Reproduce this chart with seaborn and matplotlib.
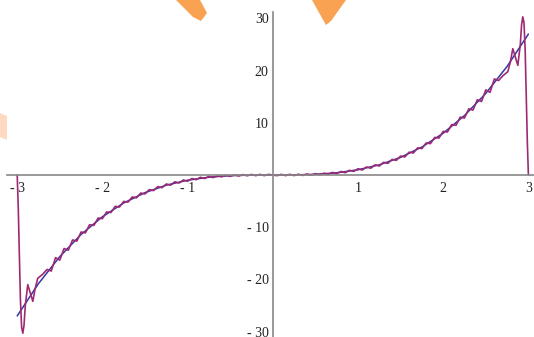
import matplotlib
matplotlib.use("Agg")
import matplotlib.pyplot as plt
from matplotlib.patches import Polygon
import seaborn as sns
import numpy as np

# blue curve: y = x^3
cube_x = [-3.0, -2.75, -2.5, -2.25, -2.0, -1.75, -1.5, -1.25, -1.0, -0.75, -0.5, -0.25,
          0.0, 0.25, 0.5, 0.75, 1.0, 1.25, 1.5, 1.75, 2.0, 2.25, 2.5, 2.75, 3.0]
cube_y = [-27.0, -20.8, -15.63, -11.39, -8.0, -5.36, -3.38, -1.95, -1.0, -0.42, -0.13, -0.02,
          0.0, 0.02, 0.13, 0.42, 1.0, 1.95, 3.38, 5.36, 8.0, 11.39, 15.63, 20.8, 27.0]

# purple curve: Fourier partial sum (ringing), left half
fourier_left_x = [-3.0, -2.988, -2.975, -2.962, -2.948, -2.934, -2.92, -2.905, -2.876, -2.846,
                  -2.817, -2.79, -2.759, -2.70, -2.65, -2.60, -2.55, -2.50, -2.45, -2.40,
                  -2.35, -2.30, -2.25, -2.20, -2.15, -2.10, -2.05, -2.00, -1.95, -1.90,
                  -1.85, -1.80, -1.75, -1.70, -1.65, -1.60, -1.55, -1.50, -1.45, -1.40,
                  -1.35, -1.30, -1.25, -1.20, -1.15, -1.10, -1.05, -1.00, -0.95, -0.90,
                  -0.85, -0.80, -0.75, -0.70, -0.65, -0.60, -0.55, -0.50, -0.45, -0.40,
                  -0.35, -0.30, -0.25, -0.20, -0.15, -0.10, -0.05]
fourier_left_y = [0.0, -6.0, -15.0, -24.0, -29.2, -30.3, -28.8, -25.0, -21.0, -22.6,
                  -24.2, -21.8, -19.8, -19.0, -18.1, -18.4, -15.83, -16.31, -14.08, -14.41,
                  -12.44, -12.67, -10.92, -11.09, -9.52, -9.66, -8.24, -8.36, -7.07, -7.19,
                  -6.01, -6.14, -5.06, -5.2, -4.21, -4.37, -3.46, -3.63, -2.8, -2.99,
                  -2.22, -2.43, -1.72, -1.95, -1.3, -1.54, -0.95, -1.2, -0.68, -0.9,
                  -0.44, -0.67, -0.27, -0.49, -0.13, -0.35, -0.03, -0.26, 0.04, -0.19,
                  0.08, -0.15, 0.11, -0.13, 0.12, -0.12, 0.12]

# right half
fourier_right_x = [0.0, 0.05, 0.10, 0.15, 0.20, 0.25, 0.30, 0.35, 0.40, 0.45,
                   0.50, 0.55, 0.60, 0.65, 0.70, 0.75, 0.80, 0.85, 0.90, 0.95,
                   1.00, 1.05, 1.10, 1.15, 1.20, 1.25, 1.30, 1.35, 1.40, 1.45,
                   1.50, 1.55, 1.60, 1.65, 1.70, 1.75, 1.80, 1.85, 1.90, 1.95,
                   2.00, 2.05, 2.10, 2.15, 2.20, 2.25, 2.30, 2.35, 2.40, 2.45,
                   2.50, 2.55, 2.60, 2.65, 2.70, 2.759, 2.79, 2.817, 2.846, 2.876,
                   2.905, 2.92, 2.934, 2.948, 2.962, 2.975, 2.988, 3.0]
fourier_right_y = [0.0, -0.12, 0.12, -0.12, 0.13, -0.11, 0.15, -0.08, 0.19, -0.04,
                   0.26, 0.03, 0.35, 0.13, 0.49, 0.27, 0.67, 0.44, 0.9, 0.68,
                   1.2, 0.95, 1.54, 1.3, 1.95, 1.72, 2.43, 2.22, 2.99, 2.8,
                   3.63, 3.46, 4.37, 4.21, 5.2, 5.06, 6.14, 6.01, 7.19, 7.07,
                   8.36, 8.24, 9.66, 9.52, 11.09, 10.92, 12.67, 12.44, 14.41, 14.08,
                   16.31, 15.83, 18.4, 18.1, 19.0, 19.8, 21.8, 24.2, 22.6, 21.0,
                   25.0, 28.8, 30.3, 29.2, 24.0, 15.0, 6.0, 0.0]

x_major = [-3, -2, -1, 1, 2, 3]
x_labels = ["- 3", "- 2", "- 1", "1", "2", "3"]
y_major = [-30, -20, -10, 10, 20, 30]
y_labels = ["- 30", "- 20", "- 10", "10", "20", "30"]

W, H = 534, 337
sns.set_style("white")
plt.rcParams['font.family'] = ['Liberation Serif', 'DejaVu Serif']

fig = plt.figure(figsize=(W / 100, H / 100), dpi=100)
ax = fig.add_axes([0, 0, 1, 1])

sns.lineplot(x=cube_x, y=cube_y, ax=ax, color="#3535a8", linewidth=1.1)
sns.lineplot(x=fourier_left_x + fourier_right_x, y=fourier_left_y + fourier_right_y,
             ax=ax, color="#9e2a72", linewidth=1.2)

# pixel frame: origin at (272.8, 175), 85.2 px per x unit, 5.22 px per y unit
ax.set_xlim(-272.8 / 85.2, (W - 272.8) / 85.2)
ax.set_ylim(-(H - 175) / 5.22, 175 / 5.22)

for s in ["top", "right"]:
    ax.spines[s].set_visible(False)
ax.spines["left"].set_position(("data", 0))
ax.spines["bottom"].set_position(("data", 0))
ax.spines["left"].set_bounds(-31.5, 31.2)
ax.spines["bottom"].set_bounds(-3.12, 3.07)
for s in ["left", "bottom"]:
    ax.spines[s].set_color("#888888")
    ax.spines[s].set_linewidth(1.2)

ax.set_xticks(x_major, x_labels)
ax.set_yticks(y_major, y_labels)
x_minor = [round(v, 1) for v in np.arange(-3, 3.01, 0.2) if abs(v - round(v)) > 0.01]
y_minor = [v for v in range(-30, 31, 2) if v % 10 != 0]
ax.set_xticks(x_minor, minor=True)
ax.set_yticks(y_minor, minor=True)
ax.tick_params(which="major", direction="in", length=4, width=0.8, color="#444444",
               labelsize=10, labelcolor="#222222")
ax.tick_params(which="minor", direction="in", length=2.5, width=0.6, color="#444444")
ax.tick_params(axis="x", pad=5)
ax.tick_params(axis="y", pad=3)
ax.grid(False)
ax.set_xlabel("")
ax.set_ylabel("")

# orange watermark fragments, in pixel coordinates
def px(points):
    return [(x / W, 1 - y / H) for x, y in points]

fig.add_artist(Polygon(px([(176, 0), (200, 0), (207, 13), (201, 21), (193, 17)]),
                       closed=True, transform=fig.transFigure, color="#f9a352", lw=0))
fig.add_artist(Polygon(px([(312, 0), (346, 0), (331, 21), (326, 25), (322, 18)]),
                       closed=True, transform=fig.transFigure, color="#f9a352", lw=0))
fig.add_artist(Polygon(px([(0, 113), (7, 116), (7, 140), (0, 137)]),
                       closed=True, transform=fig.transFigure, color="#fddabf", lw=0))

fig.savefig("out.png", dpi=100)
